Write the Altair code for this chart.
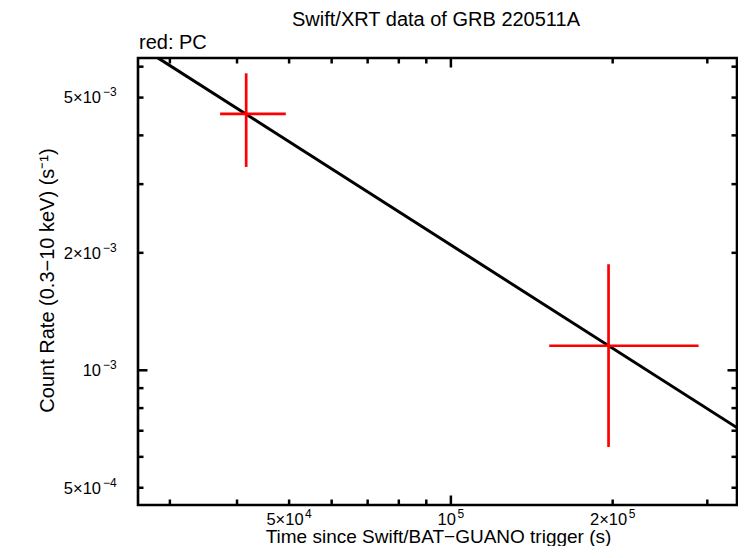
import altair as alt
import pandas as pd

# ---- data ----
t_mid = [4.16e4, 1.965e5]
t_lo = [3.72e4, 1.524e5]
t_hi = [4.93e4, 2.89e5]
rate = [4.54e-3, 1.156e-3]
rate_lo = [3.32e-3, 6.36e-4]
rate_hi = [5.77e-3, 1.87e-3]

# fitted power-law model (endpoints of the straight line in log-log)
model_t = [2.85e4, 3.41e5]
model_rate = [6.32e-3, 7.12e-4]

x_domain = [26170, 340700]
y_domain = [4.516e-4, 6.315e-3]

x_label_vals = [5e4, 1e5, 2e5]
x_label_mant = ["5×10", "10", "2×10"]
x_label_exp = ["4", "5", "5"]
y_label_vals = [5e-4, 1e-3, 2e-3, 5e-3]
y_label_mant = ["5×10", "10", "2×10", "5×10"]
y_label_exp = ["−4", "−3", "−3", "−3"]

x_major = [1e5]
x_minor = [3e4, 4e4, 5e4, 6e4, 7e4, 8e4, 9e4, 2e5, 3e5]
y_major = [1e-3]
y_minor = [5e-4, 6e-4, 7e-4, 8e-4, 9e-4, 2e-3, 3e-3, 4e-3, 5e-3, 6e-3]

title_txt = "Swift/XRT data of GRB 220511A"
legend_txt = "red: PC"
x_title = "Time since Swift/BAT−GUANO trigger (s)"
y_title = "Count Rate (0.3−10 keV) (s⁻¹)"

W, H = 599, 447
FONT = "Liberation Sans"
MAJ, MIN = 9.5, 5.5
MANT_FS, EXP_FS = 16.5, 12
CW = {"0": 0.556, "1": 0.556, "2": 0.556, "3": 0.556, "4": 0.556, "5": 0.556,
      "×": 0.584, "−": 0.584}


def twidth(s, fs):
    return sum(CW.get(c, 0.556) for c in s) * fs


xscale = alt.Scale(type="log", domain=x_domain, nice=False)
yscale = alt.Scale(type="log", domain=y_domain, nice=False)

xaxis = alt.Axis(grid=False, domain=False, ticks=False, labels=False,
                 title=x_title, titleFont=FONT, titleFontSize=19, titleFontWeight="normal",
                 titleColor="black", titleX=300, titleY=37.5, titleBaseline="alphabetic",
                 titleAlign="center")
yaxis = alt.Axis(grid=False, domain=False, ticks=False, labels=False,
                 title=y_title, titleFont=FONT, titleFontSize=20, titleFontWeight="normal",
                 titleColor="black", titleX=-84.5, titleY=222, titleAngle=-90,
                 titleBaseline="alphabetic", titleAlign="center")


def X(field):
    return alt.X(f"{field}:Q", scale=xscale, axis=xaxis)


def Y(field):
    return alt.Y(f"{field}:Q", scale=yscale, axis=yaxis)


pts = pd.DataFrame({"t": t_mid, "tlo": t_lo, "thi": t_hi,
                    "r": rate, "rlo": rate_lo, "rhi": rate_hi})
model = pd.DataFrame({"t": model_t, "r": model_rate})

line = alt.Chart(model).mark_line(color="black", strokeWidth=3, clip=True).encode(
    x=X("t"), y=Y("r"))

xerr = alt.Chart(pts).mark_rule(color="#ff0000", strokeWidth=2.7).encode(
    x=X("tlo"), x2="thi:Q", y=Y("r"))
yerr = alt.Chart(pts).mark_rule(color="#ff0000", strokeWidth=2.7).encode(
    x=X("t"), y=Y("rlo"), y2="rhi:Q")

layers = [line, xerr, yerr]

# inward ticks on all four sides
for vals, ln in [(y_major, MAJ), (y_minor, MIN)]:
    d = pd.DataFrame({"v": vals})
    layers.append(alt.Chart(d).mark_rule(color="black", strokeWidth=2.5).encode(
        y=Y("v"), x=alt.value(0), x2=alt.value(ln)))
    layers.append(alt.Chart(d).mark_rule(color="black", strokeWidth=2.5).encode(
        y=Y("v"), x=alt.value(W), x2=alt.value(W - ln)))
for vals, ln in [(x_major, MAJ), (x_minor, MIN)]:
    d = pd.DataFrame({"v": vals})
    layers.append(alt.Chart(d).mark_rule(color="black", strokeWidth=2.5).encode(
        x=X("v"), y=alt.value(H), y2=alt.value(H - ln)))
    layers.append(alt.Chart(d).mark_rule(color="black", strokeWidth=2.5).encode(
        x=X("v"), y=alt.value(0), y2=alt.value(ln)))

# y tick labels: mantissa + raised exponent
ylab = pd.DataFrame({"v": y_label_vals, "m": y_label_mant, "e": y_label_exp})
layers.append(alt.Chart(ylab).mark_text(
    font=FONT, fontSize=MANT_FS, color="black", align="right", baseline="alphabetic",
    dy=5.8).encode(y=Y("v"), x=alt.value(-37), text="m:N"))
layers.append(alt.Chart(ylab).mark_text(
    font=FONT, fontSize=EXP_FS, color="black", align="left", baseline="alphabetic",
    dy=-1.2).encode(y=Y("v"), x=alt.value(-35), text="e:N"))

# x tick labels: centred mantissa + raised exponent
for v, m, e in zip(x_label_vals, x_label_mant, x_label_exp):
    wm, we = twidth(m, MANT_FS), twidth(e, EXP_FS)
    dxm = (wm - 1.5 - we) / 2
    d = pd.DataFrame({"v": [v], "m": [m], "e": [e]})
    layers.append(alt.Chart(d).mark_text(
        font=FONT, fontSize=MANT_FS, color="black", align="right", baseline="alphabetic",
        dx=dxm, dy=19.5).encode(x=X("v"), y=alt.value(H), text="m:N"))
    layers.append(alt.Chart(d).mark_text(
        font=FONT, fontSize=EXP_FS, color="black", align="left", baseline="alphabetic",
        dx=dxm + 1.5, dy=13).encode(x=X("v"), y=alt.value(H), text="e:N"))

title = alt.Chart(pd.DataFrame({"s": [title_txt]})).mark_text(
    font=FONT, fontSize=20, color="black", align="center", baseline="alphabetic"
).encode(x=alt.value(298), y=alt.value(-32), text="s:N")
legend = alt.Chart(pd.DataFrame({"s": [legend_txt]})).mark_text(
    font=FONT, fontSize=20, color="black", align="left", baseline="alphabetic"
).encode(x=alt.value(1), y=alt.value(-9), text="s:N")
layers += [title, legend]

chart = alt.layer(*layers).properties(
    width=W, height=H,
    autosize=alt.AutoSizeParams(type="none"),
    padding={"left": 130, "top": 50, "right": 1, "bottom": 41},
    background="white",
).configure_view(stroke="black", strokeWidth=2.6)

chart.save("out.html", embed_options={"renderer": "svg", "actions": False})
